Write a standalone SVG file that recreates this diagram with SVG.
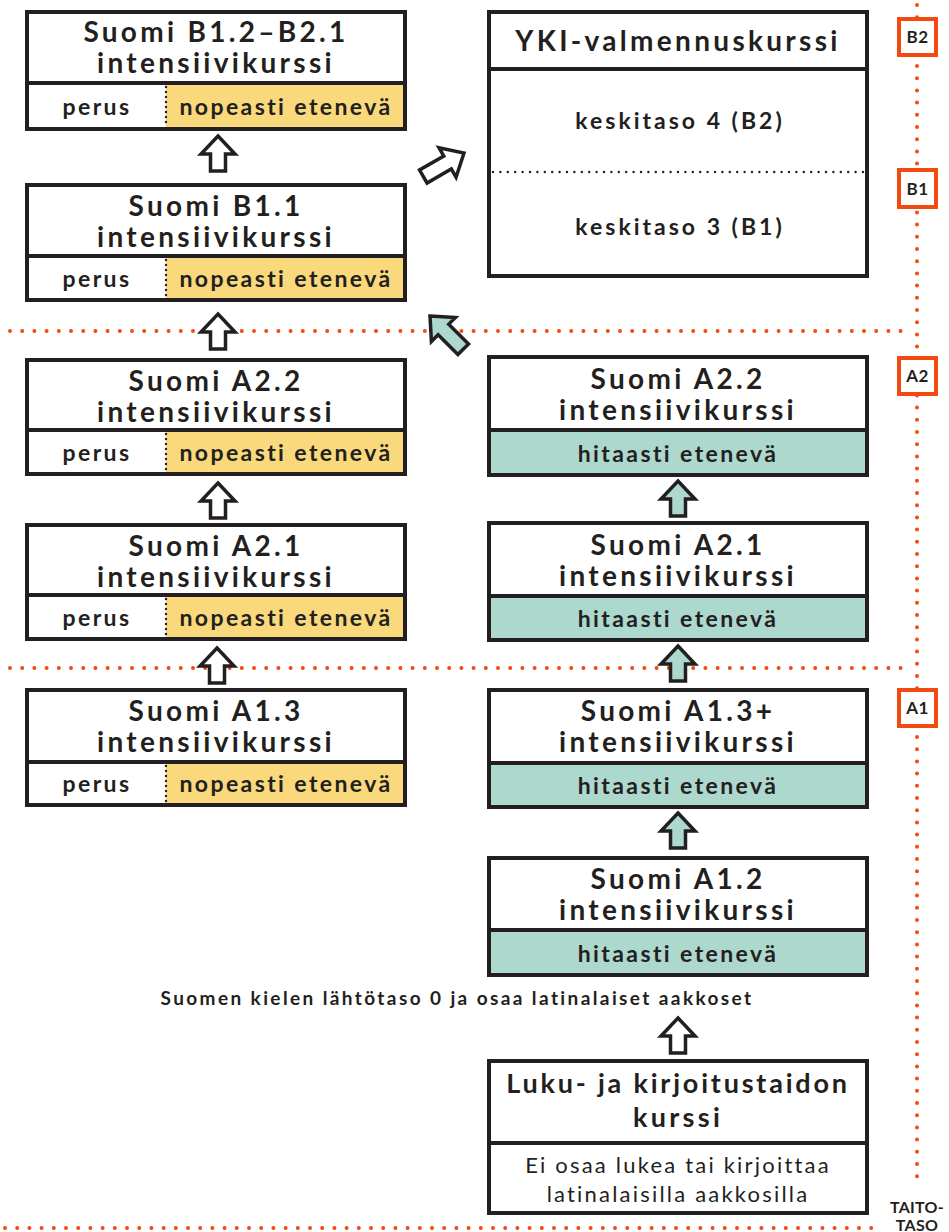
<svg xmlns="http://www.w3.org/2000/svg" width="949" height="1232" viewBox="0 0 949 1232">
<defs>
<style>
text{font-family:Lato,"DejaVu Sans","Liberation Sans",sans-serif;fill:#231f20;text-anchor:middle}
.h{font-size:28px;font-weight:700;letter-spacing:3.3px}
.r{font-size:23px;font-weight:700;letter-spacing:2.4px}
.m{font-size:23px;font-weight:700;letter-spacing:3px}
.lb{font-size:17px;font-weight:700;letter-spacing:0.5px}
.tt{font-size:16px;font-weight:700;letter-spacing:0.3px}
.nt{font-size:19px;font-weight:700;letter-spacing:2.4px}
.box{fill:none;stroke:#231f20;stroke-width:4}
.div{stroke:#231f20;stroke-width:4}
.sep{stroke:#231f20;stroke-width:2.4;stroke-linecap:round;stroke-dasharray:0 5}
.ysep{stroke:#231f20;stroke-width:2.4;stroke-linecap:round;stroke-dasharray:0 7.4}
.yel{fill:#f9d97b}
.tea{fill:#acd8cd}
.wh{fill:#fff}
.grid{fill:none;stroke:#f24a10;stroke-width:4;stroke-linecap:round;stroke-dasharray:0 12.2}
.tag{fill:#fff;stroke:#f24a10;stroke-width:4}
.arw{stroke:#231f20;stroke-width:3.5;stroke-linejoin:miter}
.aw{fill:#fff}
.at{fill:#acd8cd}
</style>
<path id="up" d="M0,0 L17,18 L7.5,18 L7.5,35 L-7.5,35 L-7.5,18 L-17,18 Z"/>
<path id="diag" d="M0,0 L17,19 L7.5,19 L7.5,47 L-7.5,47 L-7.5,19 L-17,19 Z"/>
</defs>
<rect width="949" height="1232" fill="#fff"/>

<g id="levels">
<line x1="917" y1="5" x2="917" y2="1180" class="grid"/>
<line x1="10" y1="331" x2="905" y2="331" class="grid"/>
<line x1="10" y1="668" x2="905" y2="668" class="grid"/>
<line x1="5" y1="1228" x2="877" y2="1228" class="grid"/>
<g id="tag-b2"><rect x="899" y="19" width="37" height="36" class="tag"/><text class="lb" x="917.5" y="43">B2</text></g>
<g id="tag-b1"><rect x="899" y="170" width="37" height="37" class="tag"/><text class="lb" x="917.5" y="194.5">B1</text></g>
<g id="tag-a2"><rect x="899" y="358" width="37" height="36" class="tag"/><text class="lb" x="917.5" y="382">A2</text></g>
<g id="tag-a1"><rect x="899" y="690" width="37" height="36" class="tag"/><text class="lb" x="917.5" y="714">A1</text></g>
<g id="taitotaso"><text class="tt" x="917" y="1213">TAITO-</text><text class="tt" x="917" y="1231">TASO</text></g>
</g>

<g id="l-b12">
<rect x="27" y="12" width="378" height="117" class="wh"/>
<rect x="166" y="83" width="239" height="46" class="yel"/>
<line x1="166" y1="87" x2="166" y2="127" class="sep"/>
<line x1="27" y1="83" x2="405" y2="83" class="div"/>
<rect x="27" y="12" width="378" height="117" class="box"/>
<text class="h" x="216" y="42">Suomi B1.2–B2.1</text>
<text class="h" x="216" y="73">intensiivikurssi</text>
<text class="r" x="97" y="115">perus</text>
<text class="r" x="286" y="115">nopeasti etenevä</text>
</g>

<g id="l-b11">
<rect x="27" y="185" width="378" height="115" class="wh"/>
<rect x="166" y="256" width="239" height="44" class="yel"/>
<line x1="166" y1="260" x2="166" y2="298" class="sep"/>
<line x1="27" y1="256" x2="405" y2="256" class="div"/>
<rect x="27" y="185" width="378" height="115" class="box"/>
<text class="h" x="216" y="216">Suomi B1.1</text>
<text class="h" x="216" y="247">intensiivikurssi</text>
<text class="r" x="97" y="287">perus</text>
<text class="r" x="286" y="287">nopeasti etenevä</text>
</g>

<g id="l-a22">
<rect x="27" y="360" width="378" height="114" class="wh"/>
<rect x="166" y="430" width="239" height="44" class="yel"/>
<line x1="166" y1="434" x2="166" y2="472" class="sep"/>
<line x1="27" y1="430" x2="405" y2="430" class="div"/>
<rect x="27" y="360" width="378" height="114" class="box"/>
<text class="h" x="216" y="391">Suomi A2.2</text>
<text class="h" x="216" y="422">intensiivikurssi</text>
<text class="r" x="97" y="461">perus</text>
<text class="r" x="286" y="461">nopeasti etenevä</text>
</g>

<g id="l-a21">
<rect x="27" y="525" width="378" height="114" class="wh"/>
<rect x="166" y="595" width="239" height="44" class="yel"/>
<line x1="166" y1="599" x2="166" y2="637" class="sep"/>
<line x1="27" y1="595" x2="405" y2="595" class="div"/>
<rect x="27" y="525" width="378" height="114" class="box"/>
<text class="h" x="216" y="556">Suomi A2.1</text>
<text class="h" x="216" y="587">intensiivikurssi</text>
<text class="r" x="97" y="626">perus</text>
<text class="r" x="286" y="626">nopeasti etenevä</text>
</g>

<g id="l-a13">
<rect x="27" y="690" width="378" height="115" class="wh"/>
<rect x="166" y="762" width="239" height="43" class="yel"/>
<line x1="166" y1="766" x2="166" y2="803" class="sep"/>
<line x1="27" y1="762" x2="405" y2="762" class="div"/>
<rect x="27" y="690" width="378" height="115" class="box"/>
<text class="h" x="216" y="721">Suomi A1.3</text>
<text class="h" x="216" y="752">intensiivikurssi</text>
<text class="r" x="97" y="792">perus</text>
<text class="r" x="286" y="792">nopeasti etenevä</text>
</g>

<g id="yki">
<rect x="489" y="12" width="378" height="264" class="wh"/>
<line x1="489" y1="69" x2="867" y2="69" class="div"/>
<line x1="493" y1="172" x2="865" y2="172" class="ysep"/>
<rect x="489" y="12" width="378" height="264" class="box"/>
<text class="h" x="678" y="51">YKI-valmennuskurssi</text>
<text class="m" x="680" y="129">keskitaso 4 (B2)</text>
<text class="m" x="680" y="235">keskitaso 3 (B1)</text>
</g>

<g id="r-a22">
<rect x="489" y="357" width="378" height="118" class="wh"/>
<rect x="489" y="430" width="378" height="45" class="tea"/>
<line x1="489" y1="430" x2="867" y2="430" class="div"/>
<rect x="489" y="357" width="378" height="118" class="box"/>
<text class="h" x="678" y="389">Suomi A2.2</text>
<text class="h" x="678" y="420">intensiivikurssi</text>
<text class="r" x="678" y="462">hitaasti etenevä</text>
</g>

<g id="r-a21">
<rect x="489" y="523" width="378" height="117" class="wh"/>
<rect x="489" y="596" width="378" height="44" class="tea"/>
<line x1="489" y1="596" x2="867" y2="596" class="div"/>
<rect x="489" y="523" width="378" height="117" class="box"/>
<text class="h" x="678" y="555">Suomi A2.1</text>
<text class="h" x="678" y="586">intensiivikurssi</text>
<text class="r" x="678" y="627">hitaasti etenevä</text>
</g>

<g id="r-a13">
<rect x="489" y="690" width="378" height="117" class="wh"/>
<rect x="489" y="763" width="378" height="44" class="tea"/>
<line x1="489" y1="763" x2="867" y2="763" class="div"/>
<rect x="489" y="690" width="378" height="117" class="box"/>
<text class="h" x="678" y="721">Suomi A1.3+</text>
<text class="h" x="678" y="752">intensiivikurssi</text>
<text class="r" x="678" y="794">hitaasti etenevä</text>
</g>

<g id="r-a12">
<rect x="489" y="858" width="378" height="117" class="wh"/>
<rect x="489" y="930" width="378" height="45" class="tea"/>
<line x1="489" y1="930" x2="867" y2="930" class="div"/>
<rect x="489" y="858" width="378" height="117" class="box"/>
<text class="h" x="678" y="889">Suomi A1.2</text>
<text class="h" x="678" y="920">intensiivikurssi</text>
<text class="r" x="678" y="962">hitaasti etenevä</text>
</g>

<g id="start-note">
<text class="nt" x="457" y="1005">Suomen kielen lähtötaso 0 ja osaa latinalaiset aakkoset</text>
</g>

<g id="luku">
<rect x="489" y="1061" width="378" height="152" class="wh"/>
<line x1="489" y1="1143" x2="867" y2="1143" class="div"/>
<rect x="489" y="1061" width="378" height="152" class="box"/>
<text class="h" x="678" y="1093" style="font-size:27px;letter-spacing:2.8px">Luku- ja kirjoitustaidon</text>
<text class="h" x="678" y="1127" style="font-size:27px">kurssi</text>
<text class="m" x="678" y="1173" style="font-size:22px;font-weight:400;letter-spacing:2.2px">Ei osaa lukea tai kirjoittaa</text>
<text class="m" x="678" y="1202" style="font-size:22px;font-weight:400;letter-spacing:2.2px">latinalaisilla aakkosilla</text>
</g>

<g id="connectors">
<use href="#up" class="arw aw" transform="translate(218,136)"/>
<use href="#up" class="arw aw" transform="translate(218,314)"/>
<use href="#up" class="arw aw" transform="translate(218,483)"/>
<use href="#up" class="arw aw" transform="translate(217,648)"/>
<use href="#up" class="arw at" transform="translate(678,481)"/>
<use href="#up" class="arw at" transform="translate(678,646)"/>
<use href="#up" class="arw at" transform="translate(678,813)"/>
<use href="#up" class="arw aw" transform="translate(678,1018)"/>
<use href="#diag" class="arw aw" transform="translate(464,153) rotate(60)"/>
<use href="#diag" class="arw at" transform="translate(430,316) rotate(-45)"/>
</g>
</svg>
